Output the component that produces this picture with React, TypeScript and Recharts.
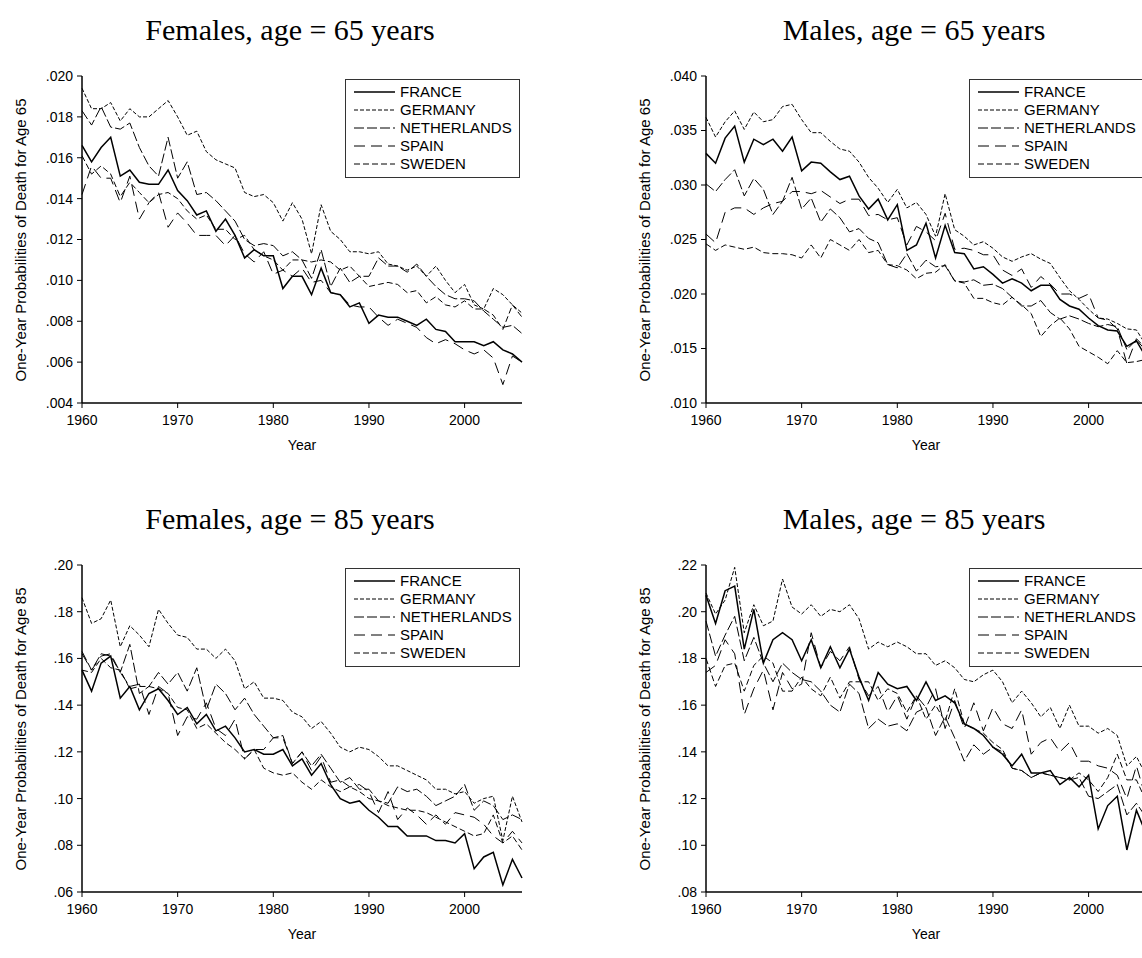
import React from 'react'
import { LineChart, Line, XAxis, YAxis } from 'recharts'

const YEARS = Array.from({ length: 47 }, (_, i) => 1960 + i)
const DECADE_TICKS = [1960, 1970, 1980, 1990, 2000]
const COUNTRIES = ['FRANCE', 'GERMANY', 'NETHERLANDS', 'SPAIN', 'SWEDEN']

// Females, age 65
const F65_FRANCE = [.0166, .0158, .0165, .0170, .0151, .0154, .0148, .0147, .0147, .0154, .0144, .0139, .0132, .0134, .0124, .0130, .0122, .0111, .0115, .0112, .0112, .0096, .0102, .0102, .0093, .0106, .0094, .0093, .0087, .0089, .0079, .0083, .0082, .0082, .0080, .0078, .0081, .0076, .0075, .0070, .0070, .0070, .0068, .0070, .0066, .0064, .0060]
const F65_GERMANY = [.0194, .0184, .0184, .0187, .0178, .0184, .0180, .0180, .0184, .0188, .0180, .0171, .0173, .0163, .0159, .0157, .0155, .0143, .0141, .0142, .0138, .0129, .0138, .0130, .0113, .0137, .0124, .0120, .0114, .0114, .0113, .0114, .0108, .0107, .0105, .0107, .0102, .0107, .0100, .0094, .0098, .0088, .0086, .0096, .0093, .0088, .0084]
const F65_NETHERLANDS = [.0183, .0176, .0185, .0175, .0174, .0177, .0165, .0156, .0151, .0170, .0150, .0158, .0142, .0143, .0139, .0134, .0129, .0120, .0117, .0118, .0117, .0112, .0114, .0110, .0101, .0115, .0097, .0106, .0099, .0102, .0102, .0111, .0107, .0107, .0104, .0108, .0102, .0097, .0093, .0091, .0091, .0090, .0085, .0081, .0077, .0078, .0074]
const F65_SPAIN = [.0142, .0156, .0150, .0150, .0138, .0151, .0130, .0138, .0143, .0126, .0133, .0128, .0122, .0122, .0122, .0117, .0122, .0113, .0109, .0114, .0103, .0105, .0102, .0106, .0099, .0100, .0094, .0093, .0088, .0087, .0087, .0082, .0078, .0081, .0079, .0077, .0072, .0069, .0071, .0069, .0066, .0064, .0066, .0062, .0049, .0063, .0060]
const F65_SWEDEN = [.0161, .0152, .0156, .0152, .0141, .0148, .0143, .0138, .0142, .0143, .0140, .0134, .0130, .0132, .0125, .0125, .0120, .0122, .0115, .0112, .0110, .0105, .0110, .0110, .0109, .0110, .0109, .0105, .0107, .0102, .0097, .0098, .0099, .0098, .0094, .0095, .0089, .0092, .0088, .0087, .0090, .0086, .0086, .0083, .0076, .0088, .0082]

// Males, age 65
const M65_FRANCE = [.0329, .0320, .0343, .0354, .0321, .0342, .0337, .0342, .0331, .0344, .0313, .0321, .0320, .0312, .0305, .0308, .0290, .0278, .0287, .0268, .0282, .0240, .0245, .0265, .0233, .0263, .0238, .0237, .0223, .0225, .0218, .0210, .0214, .0210, .0203, .0208, .0208, .0195, .0189, .0186, .0178, .0171, .0167, .0166, .0152, .0157, .0142]
const M65_GERMANY = [.0362, .0344, .0358, .0368, .0351, .0367, .0358, .0360, .0372, .0374, .0360, .0348, .0348, .0340, .0333, .0331, .0321, .0307, .0297, .0284, .0296, .0279, .0284, .0273, .0253, .0292, .0259, .0253, .0245, .0248, .0242, .0234, .0230, .0234, .0237, .0232, .0228, .0215, .0203, .0195, .0186, .0178, .0177, .0173, .0168, .0167, .0153]
const M65_NETHERLANDS = [.0301, .0294, .0305, .0314, .0290, .0306, .0296, .0273, .0285, .0307, .0278, .0288, .0266, .0278, .0270, .0257, .0260, .0251, .0247, .0227, .0224, .0237, .0221, .0231, .0225, .0226, .0212, .0211, .0213, .0208, .0209, .0205, .0197, .0189, .0189, .0194, .0183, .0177, .0180, .0177, .0173, .0170, .0172, .0170, .0149, .0158, .0148]
const M65_SPAIN = [.0255, .0247, .0275, .0279, .0279, .0273, .0279, .0283, .0285, .0294, .0294, .0292, .0295, .0289, .0283, .0287, .0287, .0272, .0273, .0268, .0270, .0245, .0262, .0257, .0249, .0274, .0241, .0242, .0240, .0236, .0236, .0222, .0217, .0223, .0206, .0216, .0209, .0200, .0200, .0196, .0200, .0178, .0176, .0168, .0136, .0159, .0150]
const M65_SWEDEN = [.0246, .0240, .0245, .0243, .0241, .0243, .0238, .0237, .0237, .0236, .0233, .0245, .0233, .0250, .0245, .0240, .0250, .0238, .0240, .0227, .0226, .0222, .0214, .0219, .0220, .0227, .0212, .0210, .0196, .0196, .0192, .0190, .0197, .0190, .0182, .0161, .0171, .0178, .0168, .0152, .0147, .0142, .0136, .0148, .0137, .0138, .0140]

// Females, age 85
const F85_FRANCE = [.155, .146, .158, .161, .143, .148, .138, .145, .147, .142, .136, .139, .132, .136, .129, .131, .126, .120, .121, .119, .119, .121, .114, .117, .110, .115, .106, .100, .098, .099, .095, .092, .088, .088, .084, .084, .084, .082, .082, .081, .085, .070, .075, .077, .063, .074, .066]
const F85_GERMANY = [.186, .175, .177, .185, .165, .174, .170, .165, .181, .175, .170, .169, .164, .164, .160, .164, .159, .147, .150, .143, .143, .142, .137, .135, .130, .133, .128, .122, .120, .122, .121, .118, .114, .114, .112, .110, .108, .104, .104, .102, .103, .098, .100, .101, .082, .101, .090]
const F85_NETHERLANDS = [.163, .155, .162, .161, .154, .166, .145, .148, .154, .149, .154, .146, .156, .138, .149, .145, .138, .143, .136, .131, .126, .127, .115, .120, .114, .119, .113, .107, .109, .104, .104, .099, .098, .105, .103, .104, .101, .097, .099, .101, .106, .095, .099, .097, .091, .093, .091]
const F85_SPAIN = [.162, .155, .161, .162, .154, .148, .149, .136, .148, .145, .127, .135, .134, .141, .130, .127, .134, .117, .121, .121, .126, .126, .115, .120, .112, .118, .107, .108, .105, .106, .103, .094, .103, .091, .096, .093, .089, .093, .089, .094, .093, .092, .089, .084, .081, .086, .081]
const F85_SWEDEN = [.155, .154, .160, .156, .155, .147, .148, .148, .147, .145, .139, .138, .130, .132, .128, .124, .121, .117, .121, .113, .111, .110, .111, .107, .104, .108, .105, .103, .105, .103, .100, .099, .097, .096, .095, .095, .094, .092, .090, .088, .086, .084, .085, .093, .081, .084, .078]

// Males, age 85
const M85_FRANCE = [.207, .195, .209, .211, .184, .201, .178, .188, .191, .188, .179, .188, .176, .185, .176, .184, .172, .162, .174, .169, .167, .168, .162, .170, .162, .164, .161, .152, .150, .147, .142, .139, .134, .139, .131, .131, .132, .126, .129, .125, .130, .107, .117, .121, .098, .115, .105]
const M85_GERMANY = [.208, .199, .205, .219, .191, .203, .194, .196, .214, .202, .199, .203, .198, .201, .200, .203, .197, .184, .187, .185, .187, .185, .182, .182, .177, .179, .176, .171, .170, .173, .175, .170, .161, .166, .161, .155, .159, .150, .160, .151, .151, .148, .150, .147, .134, .138, .130]
const M85_NETHERLANDS = [.196, .181, .190, .198, .179, .189, .178, .170, .178, .174, .171, .170, .166, .160, .157, .169, .165, .150, .154, .151, .152, .149, .157, .159, .147, .155, .146, .136, .143, .139, .142, .140, .133, .132, .129, .131, .130, .129, .128, .129, .121, .120, .123, .126, .113, .118, .112]
const M85_SPAIN = [.174, .177, .188, .182, .156, .167, .175, .158, .174, .167, .169, .191, .176, .183, .179, .185, .171, .164, .168, .157, .164, .154, .164, .159, .167, .150, .162, .150, .161, .149, .159, .152, .150, .158, .139, .144, .146, .140, .144, .136, .136, .134, .133, .130, .120, .134, .120]
const M85_SWEDEN = [.180, .168, .177, .178, .166, .177, .181, .178, .166, .166, .172, .167, .164, .172, .163, .170, .170, .170, .162, .167, .165, .157, .164, .154, .160, .153, .167, .152, .150, .148, .144, .141, .133, .132, .129, .131, .130, .129, .128, .131, .128, .123, .129, .139, .128, .128, .119]

const F65_TICKS = [.004, .006, .008, .010, .012, .014, .016, .018, .020]
const M65_TICKS = [.010, .015, .020, .025, .030, .035, .040]
const F85_TICKS = [.06, .08, .10, .12, .14, .16, .18, .20]
const M85_TICKS = [.08, .10, .12, .14, .16, .18, .20, .22]

// line styles, EViews-like black dashes
const DASH: Record<string, string | undefined> = {
  FRANCE: undefined,
  GERMANY: '4 2',
  NETHERLANDS: '10 3',
  SPAIN: '11 6',
  SWEDEN: '6 3',
}

const SANS = '"Liberation Sans", Arial, sans-serif'
const SERIF = '"Liberation Serif", "Times New Roman", serif'

const CHART_W = 571
const CHART_H = 480

function buildRows(series: number[][]) {
  return YEARS.map((year, i) => {
    const row: Record<string, number> = { year }
    COUNTRIES.forEach((c, k) => {
      row[c] = series[k][i]
    })
    return row
  })
}

function LegendBox() {
  return (
    <div
      style={{
        position: 'absolute',
        left: 345,
        top: 79,
        width: 173,
        height: 94,
        border: '1.5px solid #333',
        background: '#fff',
        fontFamily: SANS,
        fontSize: 15,
        paddingTop: 3,
        boxSizing: 'content-box',
      }}
    >
      {COUNTRIES.map((c) => (
        <div key={c} style={{ height: 18, display: 'flex', alignItems: 'center' }}>
          <svg width={52} height={18} style={{ display: 'block', flex: 'none' }}>
            <line
              x1={8}
              x2={49}
              y1={9}
              y2={9}
              stroke="#000"
              strokeWidth={c === 'FRANCE' ? 1.5 : 1}
              strokeDasharray={DASH[c]}
            />
          </svg>
          <span style={{ marginLeft: 2, lineHeight: '18px', whiteSpace: 'nowrap' }}>{c}</span>
        </div>
      ))}
    </div>
  )
}

type PanelProps = {
  left: number
  top: number
  title: string
  yLabel: string
  series: number[][]
  domain: [number, number]
  ticks: number[]
  digits: number
}

function Panel({ left, top, title, yLabel, series, domain, ticks, digits }: PanelProps) {
  const data = buildRows(series)
  const fmt = (v: number) => v.toFixed(digits).replace(/^0/, '')
  const tickStyle = { fill: '#000', fontSize: 14, fontFamily: SANS }

  return (
    <div style={{ position: 'absolute', left, top, width: CHART_W, height: CHART_H }}>
      <div
        style={{
          position: 'absolute',
          left: 290,
          top: 15,
          transform: 'translateX(-50%)',
          whiteSpace: 'nowrap',
          fontFamily: SERIF,
          fontSize: 30,
          lineHeight: '30px',
        }}
      >
        {title}
      </div>
      <LineChart
        width={CHART_W}
        height={CHART_H}
        data={data}
        margin={{ top: 76, right: 49, left: 0, bottom: 47 }}
      >
        {/* minor yearly ticks pointing into the plot */}
        <XAxis
          xAxisId="minor"
          type="number"
          dataKey="year"
          domain={[1960, 2006]}
          ticks={YEARS}
          mirror
          height={0}
          axisLine={false}
          tickSize={3}
          tickLine={{ stroke: '#000' }}
          tickFormatter={() => ''}
        />
        <XAxis
          type="number"
          dataKey="year"
          domain={[1960, 2006]}
          ticks={DECADE_TICKS}
          height={30}
          tickSize={5}
          tickMargin={7}
          axisLine={{ stroke: '#000', strokeWidth: 1.5 }}
          tickLine={{ stroke: '#000' }}
          tick={tickStyle}
        />
        <XAxis
          xAxisId="top"
          orientation="top"
          type="number"
          dataKey="year"
          domain={[1960, 2006]}
          height={0}
          tick={false}
          tickLine={false}
          axisLine={{ stroke: '#000', strokeWidth: 1.5 }}
        />
        <YAxis
          type="number"
          domain={domain}
          ticks={ticks}
          width={82}
          tickSize={5}
          tickMargin={4}
          allowDataOverflow
          tickFormatter={fmt}
          axisLine={{ stroke: '#000', strokeWidth: 1.5 }}
          tickLine={{ stroke: '#000' }}
          tick={tickStyle}
        />
        <YAxis
          yAxisId="right"
          orientation="right"
          type="number"
          domain={[0, 1]}
          width={0}
          tick={false}
          tickLine={false}
          axisLine={{ stroke: '#000', strokeWidth: 1.5 }}
        />
        {COUNTRIES.map((c) => (
          <Line
            key={c}
            type="linear"
            dataKey={c}
            stroke="#000"
            strokeWidth={c === 'FRANCE' ? 1.5 : 1}
            strokeDasharray={DASH[c]}
            dot={false}
            activeDot={false}
            isAnimationActive={false}
          />
        ))}
      </LineChart>
      <LegendBox />
      <div
        style={{
          position: 'absolute',
          left: 20,
          top: 240,
          transform: 'translate(-50%, -50%) rotate(-90deg)',
          whiteSpace: 'nowrap',
          fontFamily: SANS,
          fontSize: 15,
        }}
      >
        {yLabel}
      </div>
      <div
        style={{
          position: 'absolute',
          left: 302,
          top: 445,
          transform: 'translate(-50%, -50%)',
          fontFamily: SANS,
          fontSize: 14,
        }}
      >
        Year
      </div>
    </div>
  )
}

export default function App() {
  return (
    <div
      style={{
        position: 'absolute',
        left: 0,
        top: 0,
        width: 1142,
        height: 958,
        overflow: 'hidden',
        background: '#fff',
      }}
    >
      <Panel
        left={0}
        top={0}
        title="Females, age = 65 years"
        yLabel="One-Year Probabilities of Death for Age 65"
        series={[F65_FRANCE, F65_GERMANY, F65_NETHERLANDS, F65_SPAIN, F65_SWEDEN]}
        domain={[0.004, 0.02]}
        ticks={F65_TICKS}
        digits={3}
      />
      <Panel
        left={624}
        top={0}
        title="Males, age = 65 years"
        yLabel="One-Year Probabilities of Death for Age 65"
        series={[M65_FRANCE, M65_GERMANY, M65_NETHERLANDS, M65_SPAIN, M65_SWEDEN]}
        domain={[0.01, 0.04]}
        ticks={M65_TICKS}
        digits={3}
      />
      <Panel
        left={0}
        top={489}
        title="Females, age = 85 years"
        yLabel="One-Year Probabilities of Death for Age 85"
        series={[F85_FRANCE, F85_GERMANY, F85_NETHERLANDS, F85_SPAIN, F85_SWEDEN]}
        domain={[0.06, 0.2]}
        ticks={F85_TICKS}
        digits={2}
      />
      <Panel
        left={624}
        top={489}
        title="Males, age = 85 years"
        yLabel="One-Year Probabilities of Death for Age 85"
        series={[M85_FRANCE, M85_GERMANY, M85_NETHERLANDS, M85_SPAIN, M85_SWEDEN]}
        domain={[0.08, 0.22]}
        ticks={M85_TICKS}
        digits={2}
      />
    </div>
  )
}
